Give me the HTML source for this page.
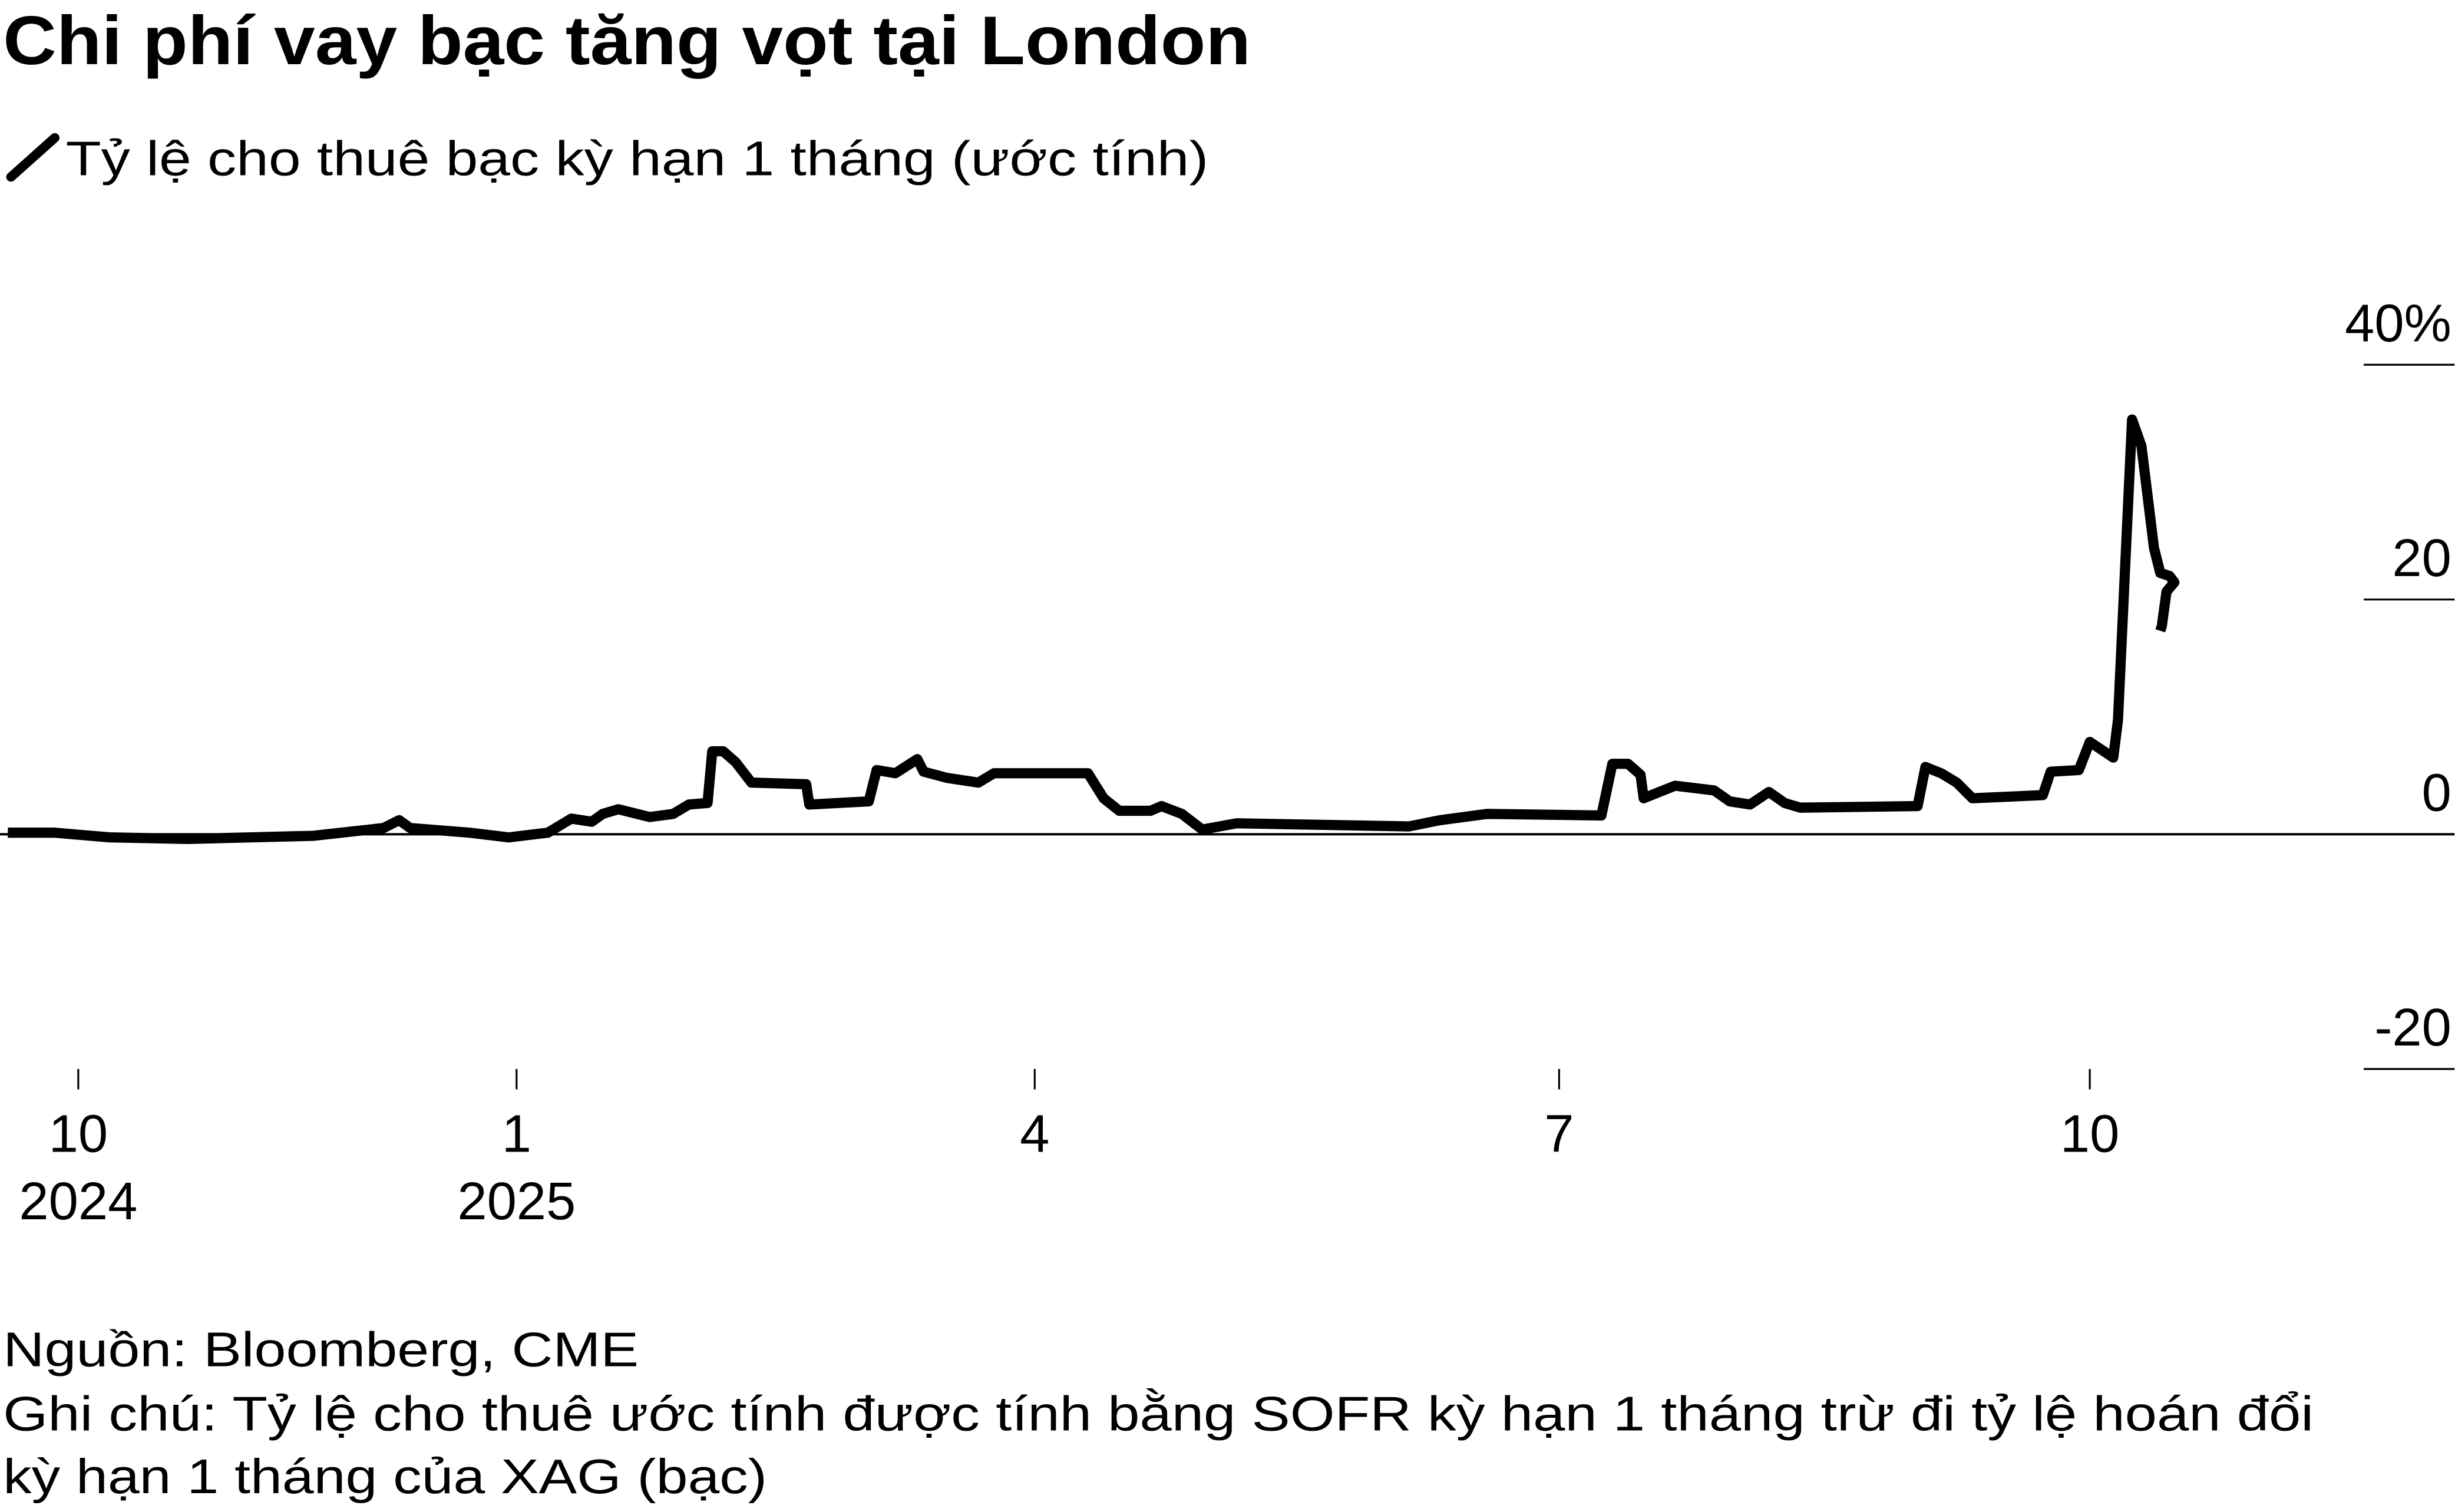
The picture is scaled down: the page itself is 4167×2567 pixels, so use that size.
<!DOCTYPE html>
<html><head><meta charset="utf-8"><style>html,body{margin:0;padding:0;background:#fff}svg{display:block}</style></head>
<body>
<svg xmlns="http://www.w3.org/2000/svg" width="4167" height="2567" viewBox="0 0 1568.3 966">
<rect width="1568.3" height="966" fill="#fff"/>
<g font-family="Liberation Sans, DejaVu Sans, sans-serif" fill="#000">
<text x="2" y="41" font-size="44" font-weight="bold" textLength="797" lengthAdjust="spacingAndGlyphs">Chi phí vay bạc tăng vọt tại London</text>
<line x1="7" y1="113" x2="35" y2="88" stroke="#000" stroke-width="6" stroke-linecap="round"/>
<text x="42" y="112" font-size="31" textLength="730" lengthAdjust="spacingAndGlyphs">Tỷ lệ cho thuê bạc kỳ hạn 1 tháng (ước tính)</text>
<g font-size="34" text-anchor="end">
<text x="1566" y="218">40%</text>
<text x="1566" y="368">20</text>
<text x="1566" y="518">0</text>
<text x="1566" y="668">-20</text>
</g>
<g stroke="#000" stroke-width="1.2">
<line x1="1510" y1="233" x2="1568" y2="233"/>
<line x1="1510" y1="383" x2="1568" y2="383"/>
<line x1="1510" y1="683" x2="1568" y2="683"/>
<line x1="0" y1="533" x2="1568" y2="533" stroke-width="1.5"/>
<line x1="50" y1="683" x2="50" y2="696"/>
<line x1="330" y1="683" x2="330" y2="696"/>
<line x1="661" y1="683" x2="661" y2="696"/>
<line x1="996" y1="683" x2="996" y2="696"/>
<line x1="1335" y1="683" x2="1335" y2="696"/>
</g>
<g font-size="34" text-anchor="middle">
<text x="50" y="736">10</text><text x="50" y="779">2024</text>
<text x="330" y="736">1</text><text x="330" y="779">2025</text>
<text x="661" y="736">4</text>
<text x="996" y="736">7</text>
<text x="1335" y="736">10</text>
</g>
<polyline fill="none" stroke="#000" stroke-width="6.5" stroke-linejoin="round" points="5,532 35,532 70,535 120,536 200,534 245,529 255,524 262,529 300,532 325,535 350,532 365,523 378,525 385,520 395,517 415,522 430,520 440,514 452,513 455,480 462,480 470,487 480,500 515,501 517,514 555,512 560,492 572,494 586,485 590,493 605,497 625,500 635,494 695,494 705,510 715,518 735,518 742,515 755,520 768,530 790,526 900,528 920,524 950,520 1023,521 1030,488 1040,488 1048,495 1050,510 1070,502 1095,505 1105,512 1118,514 1130,506 1140,513 1150,516 1225,515 1230,490 1240,494 1250,500 1260,510 1305,508 1310,493 1328,492 1335,474 1350,484 1353,460 1362,268 1368,285 1376,350 1380,366 1386,368 1389,372 1384,378 1381,400 1380,403"/>
<g font-size="31">
<text x="2" y="873" textLength="406" lengthAdjust="spacingAndGlyphs">Nguồn: Bloomberg, CME</text>
<text x="2" y="914" textLength="1476" lengthAdjust="spacingAndGlyphs">Ghi chú: Tỷ lệ cho thuê ước tính được tính bằng SOFR kỳ hạn 1 tháng trừ đi tỷ lệ hoán đổi</text>
<text x="2" y="954" textLength="488" lengthAdjust="spacingAndGlyphs">kỳ hạn 1 tháng của XAG (bạc)</text>
</g>
</g>
</svg>
</body></html>
